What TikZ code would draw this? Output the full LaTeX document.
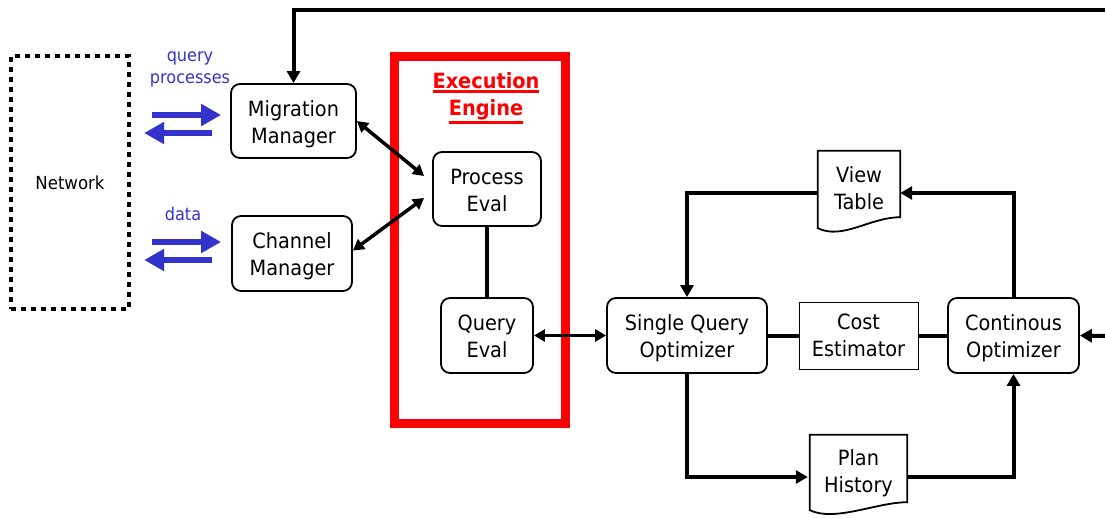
\documentclass[tikz,border=0pt]{standalone}
\usepackage{fontspec}
\setmainfont[FakeStretch=0.92]{DejaVu Sans}
\usepackage{xcolor}
\usetikzlibrary{positioning,arrows.meta}
\definecolor{flowblue}{RGB}{51,51,204}
\newcommand{\docoutline}[2]{\draw[line width=1.8pt] (#1.south west) -- (#1.north west) -- (#1.north east) -- ([yshift=#2]#1.south east) .. controls ([xshift=-30pt,yshift=#2]#1.south east) and ([xshift=25pt,yshift=-12pt]#1.south west) .. (#1.south west) -- cycle;}
\newcommand{\titleline}[1]{\vtop{\hbox{#1}\kern1.5pt\hrule height 2.5pt}}

\begin{document}
\begin{tikzpicture}[x=1pt, y=-1pt,
  box/.style={draw, line width=1.8pt, rounded corners=9pt, align=center, inner sep=2pt, font=\fontsize{21}{27}\selectfont, text height=49pt, text depth=5pt},
  doc/.style={align=center, inner sep=2pt, font=\fontsize{21}{27}\selectfont, text height=44pt, text depth=5pt},
  lab/.style={text=flowblue, align=center, font=\fontsize{17.5}{22}\selectfont},
  arr/.style={-{Triangle[length=12pt, width=13pt]}, line width=4pt},
  dbl/.style={{Triangle[length=11pt, width=12pt]}-{Triangle[length=11pt, width=12pt]}, line width=3.5pt},
  link/.style={line width=4pt},
  bluearr/.style={-{Triangle[length=20pt, width=21pt]}, line width=6pt, flowblue}]
\useasboundingbox (0,0) rectangle (1105,519);

\node[draw, line width=4.5pt, dash pattern=on 5pt off 5pt, minimum width=118pt, minimum height=253pt, font=\fontsize{18}{20}\selectfont] (net) at (70,182.5) {Network};

\node[box, minimum width=125pt, minimum height=74pt] (mm) at (293.5,121) {Migration\\Manager};
\node[box, minimum width=120pt, minimum height=75pt] (cm) at (292,253.5) {Channel\\Manager};
\node[lab] (qp) at (190,69) {query\\processes};
\node[lab] (dt) at (183,214) {data};

\draw[bluearr] ([xshift=-78pt,yshift=6pt]mm.west) -- ([xshift=-9pt,yshift=6pt]mm.west);
\draw[bluearr] ([xshift=-18pt,yshift=-12pt]mm.west) -- ([xshift=-86pt,yshift=-12pt]mm.west);
\draw[bluearr] ([xshift=-79pt,yshift=11.5pt]cm.west) -- ([xshift=-10pt,yshift=11.5pt]cm.west);
\draw[bluearr] ([xshift=-19pt,yshift=-6.5pt]cm.west) -- ([xshift=-87pt,yshift=-6.5pt]cm.west);

\node[draw=red, line width=9pt, minimum width=171pt, minimum height=367pt] (ee) at (480,240) {};
\node[text=red, align=center, font=\fontsize{21}{27}\bfseries\selectfont] (eet) at (486,98) {\titleline{Execution}\\\titleline{Engine}};
\node[box, minimum width=108pt, minimum height=74pt] (pe) at (487,189) {Process\\Eval};
\node[box, minimum width=92pt, minimum height=75pt] (qe) at (487,335.5) {Query\\Eval};
\draw[link] (pe) -- (qe);
\draw[dbl] (mm.east) -- ([xshift=-8pt,yshift=13pt]pe.west);
\draw[dbl] ([yshift=3pt]cm.east) -- ([xshift=-8pt,yshift=-9pt]pe.west);

\node[box, minimum width=160pt, minimum height=75pt] (sqo) at (687,335.5) {Single Query\\Optimizer};
\node[draw, line width=0.8pt, align=center, minimum width=119pt, minimum height=67pt, font=\fontsize{21}{27}\selectfont] (ce) at (858.5,335.5) {Cost\\Estimator};
\node[box, minimum width=131pt, minimum height=75pt] (co) at (1013.5,335.5) {Continous\\Optimizer};
\node[doc, minimum width=82pt, minimum height=77pt] (vt) at (859,189.5) {View\\Table};
\docoutline{vt}{11pt}
\node[doc, minimum width=97pt, minimum height=75pt] (ph) at (858.5,472.5) {Plan\\History};
\docoutline{ph}{8pt}

\coordinate (topr) at (1105,10);
\coordinate (rin) at (1105,336);

\draw[dbl] (qe) -- (sqo);
\draw[link] (sqo) -- (ce);
\draw[link] (ce) -- (co);
\draw[arr] (co.north) |- ([yshift=-3.5pt]vt.east);
\draw[arr] ([yshift=-3.5pt]vt.west) -| (sqo.north);
\draw[arr] (sqo.south) |- ([xshift=-2pt,yshift=-4.5pt]ph.west);
\draw[arr] ([yshift=-4.5pt]ph.east) -| (co.south);
\draw[arr] (rin) -- (co.east);
\draw[arr] (topr) -| (mm.north);
\end{tikzpicture}
\end{document}
